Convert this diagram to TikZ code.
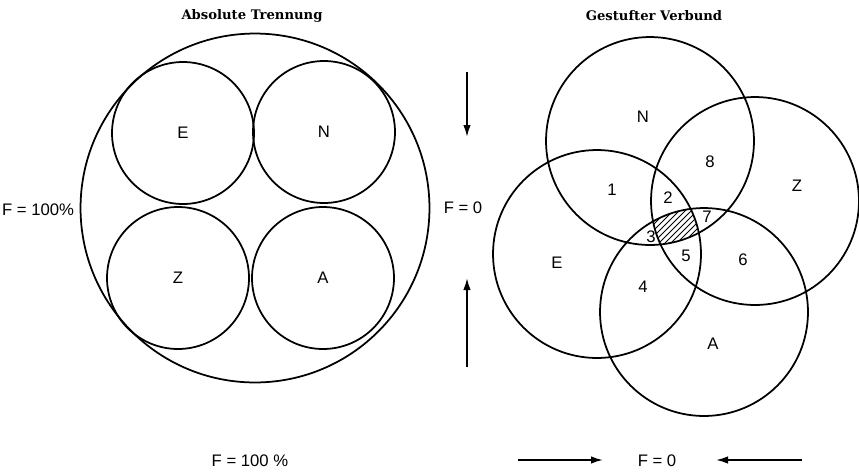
\documentclass[tikz,border=0pt]{standalone}
\usepackage{fontspec}
\setmainfont{Liberation Sans}
\newfontfamily\titlefont{DejaVu Serif}
\usetikzlibrary{arrows.meta, positioning, calc}

\begin{document}
\begin{tikzpicture}[x=0.02cm, y=-0.02cm, >={Latex[length=2.4mm, width=1.5mm]}, line width=1pt,
    font=\fontsize{9.5}{11}\selectfont,
    ring/.style={circle, draw, inner sep=0pt, minimum size=2.84cm},
    bigring/.style={circle, draw, inner sep=0pt, minimum size=6.98cm},
    set/.style={circle, draw, inner sep=0pt, minimum size=4.16cm},
    heading/.style={font=\titlefont\bfseries\fontsize{7.5}{9}\selectfont}]
          \useasboundingbox (0,0) rectangle (859,471);
          \node[heading] (t1) at (252,16) {Absolute Trennung};
          \node[heading] (t2) at (654,16) {Gestufter Verbund};

          \node[bigring] (G) at (255,208) {};
          \node[ring] (E) at (183,133) {E};
          \node[ring] (N) at (324,132) {N};
          \node[ring] (Z) at (178,278) {Z};
          \node[ring] (A) at (323,278) {A};

          \node[set] (vN) at (650,141) {};
          \node[set] (vZ) at (755,201) {};
          \node[set] (vE) at (597,254) {};
          \node[set] (vA) at (704,312) {};
          \begin{scope}
            \clip (vN.center) circle [radius=104];
            \clip (vZ.center) circle [radius=104];
            \clip (vE.center) circle [radius=104];
            \clip (vA.center) circle [radius=104];
            \foreach \s in {600,606,...,720}
              \draw[line width=0.5pt] (\s,260) -- ++(60,-60);
          \end{scope}
          \node (lN) at (643,117) {N};
          \node (lZ) at (797,186) {Z};
          \node (lE) at (557,263) {E};
          \node (lA) at (713,344) {A};
          \node (r1) at (612,190) {1};
          \node (r2) at (668,198) {2};
          \node (r3) at (651,237) {3};
          \node (r4) at (643,287) {4};
          \node (r5) at (686,256) {5};
          \node (r6) at (743,260) {6};
          \node (r7) at (707,217) {7};
          \node (r8) at (710,162) {8};

          \node (fl) at (38,210) {F = 100\%};
          \node (fm) at (463,208) {F = 0};
          \node (fb) at (250,461) {F = 100 \%};
          \node (fr) at (657,461) {F = 0};

          \coordinate (a1) at (467,72);
          \coordinate (a2) at (467,137);
          \coordinate (a3) at (467,367);
          \coordinate (a4) at (467,278);
          \coordinate (b1) at (518,460);
          \coordinate (b2) at (603,460);
          \coordinate (b3) at (802,460);
          \coordinate (b4) at (716,460);
          \draw[->] (a1) -- (a2);
          \draw[->] (a3) -- (a4);
          \draw[->] (b1) -- (b2);
          \draw[->] (b3) -- (b4);
      \end{tikzpicture}
\end{document}
